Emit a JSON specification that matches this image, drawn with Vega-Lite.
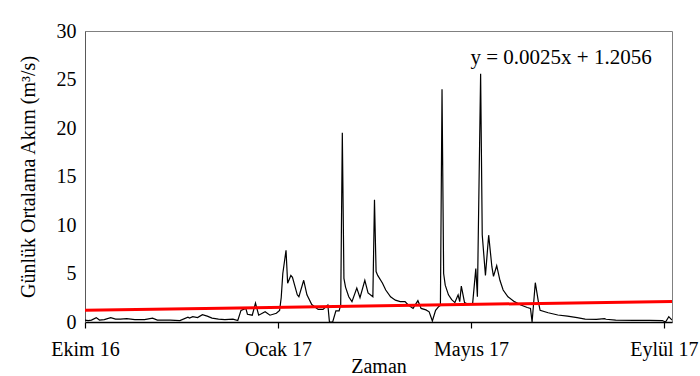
{
  "$schema": "https://vega.github.io/schema/vega-lite/v6.json",
  "width": 587,
  "height": 291,
  "autosize": "none",
  "padding": {"left": 85, "top": 31, "right": 28, "bottom": 54},
  "background": "white",
  "config": {"view": {"stroke": "#808080", "strokeWidth": 1}, "font": "Liberation Serif"},
  "datasets": {
    "akim": [
      {"day": 0, "akim": 0.2}, {"day": 2, "akim": 0.15}, {"day": 4, "akim": 0.2}, {"day": 7, "akim": 0.45},
      {"day": 9, "akim": 0.2}, {"day": 12, "akim": 0.25}, {"day": 16, "akim": 0.45}, {"day": 19, "akim": 0.3},
      {"day": 22, "akim": 0.3}, {"day": 26, "akim": 0.35}, {"day": 31, "akim": 0.25}, {"day": 37, "akim": 0.25},
      {"day": 42, "akim": 0.4}, {"day": 45, "akim": 0.2}, {"day": 53, "akim": 0.2}, {"day": 59, "akim": 0.15},
      {"day": 64, "akim": 0.5}, {"day": 65, "akim": 0.4}, {"day": 67, "akim": 0.55}, {"day": 70, "akim": 0.45},
      {"day": 73, "akim": 0.75}, {"day": 76, "akim": 0.6}, {"day": 79, "akim": 0.4}, {"day": 83, "akim": 0.3},
      {"day": 87, "akim": 0.25}, {"day": 92, "akim": 0.3}, {"day": 95, "akim": 0.15}, {"day": 97, "akim": 1.2},
      {"day": 100, "akim": 1.4}, {"day": 101, "akim": 0.8}, {"day": 104, "akim": 0.7}, {"day": 106, "akim": 1.95},
      {"day": 108, "akim": 0.7}, {"day": 112, "akim": 1.05}, {"day": 115, "akim": 0.7}, {"day": 119, "akim": 0.9},
      {"day": 121, "akim": 1.2}, {"day": 122, "akim": 2.5}, {"day": 123, "akim": 5.0}, {"day": 125, "akim": 7.4},
      {"day": 126, "akim": 4.0}, {"day": 128, "akim": 4.8}, {"day": 129, "akim": 4.6}, {"day": 132, "akim": 2.8},
      {"day": 133, "akim": 2.6}, {"day": 136, "akim": 4.3}, {"day": 138, "akim": 2.8}, {"day": 141, "akim": 1.8},
      {"day": 145, "akim": 1.3}, {"day": 148, "akim": 1.3}, {"day": 151, "akim": 1.75}, {"day": 152, "akim": 0.0},
      {"day": 154, "akim": 0.0}, {"day": 156, "akim": 1.15}, {"day": 158, "akim": 1.15}, {"day": 159, "akim": 1.75},
      {"day": 160, "akim": 19.5}, {"day": 161, "akim": 4.5}, {"day": 162, "akim": 3.6}, {"day": 164, "akim": 2.6},
      {"day": 166, "akim": 2.1}, {"day": 169, "akim": 3.5}, {"day": 171, "akim": 2.5}, {"day": 174, "akim": 4.3},
      {"day": 176, "akim": 3.0}, {"day": 179, "akim": 2.6}, {"day": 180, "akim": 12.6}, {"day": 181, "akim": 5.2},
      {"day": 182, "akim": 4.8}, {"day": 185, "akim": 4.0}, {"day": 187, "akim": 3.3}, {"day": 190, "akim": 2.6},
      {"day": 193, "akim": 2.25}, {"day": 196, "akim": 2.1}, {"day": 199, "akim": 2.1}, {"day": 201, "akim": 1.75},
      {"day": 204, "akim": 1.4}, {"day": 207, "akim": 2.2}, {"day": 209, "akim": 1.4}, {"day": 212, "akim": 1.25},
      {"day": 214, "akim": 1.05}, {"day": 216, "akim": 0.1}, {"day": 218, "akim": 1.2}, {"day": 220, "akim": 1.6},
      {"day": 221, "akim": 1.7}, {"day": 222, "akim": 24.0}, {"day": 223, "akim": 5.0}, {"day": 224, "akim": 3.8},
      {"day": 226, "akim": 2.8}, {"day": 228, "akim": 2.3}, {"day": 230, "akim": 2.0}, {"day": 232, "akim": 2.8},
      {"day": 233, "akim": 2.1}, {"day": 234, "akim": 3.7}, {"day": 236, "akim": 2.0}, {"day": 238, "akim": 1.85},
      {"day": 241, "akim": 1.85}, {"day": 243, "akim": 5.5}, {"day": 244, "akim": 2.6}, {"day": 246, "akim": 25.6},
      {"day": 247, "akim": 9.0}, {"day": 249, "akim": 4.8}, {"day": 251, "akim": 8.95}, {"day": 253, "akim": 5.7},
      {"day": 254, "akim": 4.7}, {"day": 256, "akim": 5.8}, {"day": 258, "akim": 4.3}, {"day": 260, "akim": 3.3},
      {"day": 263, "akim": 2.6}, {"day": 267, "akim": 2.1}, {"day": 271, "akim": 1.75}, {"day": 275, "akim": 1.5},
      {"day": 277, "akim": 1.4}, {"day": 278, "akim": 0.0}, {"day": 280, "akim": 4.05}, {"day": 282, "akim": 2.0},
      {"day": 283, "akim": 1.2}, {"day": 288, "akim": 0.95}, {"day": 294, "akim": 0.72}, {"day": 300, "akim": 0.6},
      {"day": 306, "akim": 0.45}, {"day": 311, "akim": 0.3}, {"day": 318, "akim": 0.28}, {"day": 323, "akim": 0.35},
      {"day": 324, "akim": 0.28}, {"day": 330, "akim": 0.2}, {"day": 341, "akim": 0.17}, {"day": 351, "akim": 0.17},
      {"day": 359, "akim": 0.15}, {"day": 361, "akim": 0.0}, {"day": 363, "akim": 0.55}, {"day": 365, "akim": 0.2}
    ],
    "trend": [{"day": 0, "akim": 1.21}, {"day": 365, "akim": 2.12}]
  },
  "layer": [
    {
      "data": {"name": "akim"},
      "mark": {"type": "line", "color": "black", "strokeWidth": 1.2, "clip": true},
      "encoding": {
        "x": {
          "field": "day", "type": "quantitative",
          "scale": {"domain": [0, 365], "nice": false, "zero": false},
          "axis": {
            "values": [0, 120, 240, 360],
            "labelExpr": "datum.value == 0 ? 'Ekim 16' : datum.value == 120 ? 'Ocak 17' : datum.value == 240 ? 'Mayıs 17' : 'Eylül 17'",
            "title": "Zaman", "grid": false,
            "domainColor": "black", "domainWidth": 1.5,
            "tickColor": "black", "tickSize": 6, "tickWidth": 1.2,
            "labelFont": "Liberation Serif", "labelFontSize": 20, "labelColor": "black",
            "labelPadding": 11, "labelOverlap": false, "labelFlush": false,
            "titleFont": "Liberation Serif", "titleFontSize": 20, "titleColor": "black",
            "titleFontWeight": "normal", "titlePadding": -3
          }
        },
        "y": {
          "field": "akim", "type": "quantitative",
          "scale": {"domain": [0, 30], "nice": false},
          "axis": {
            "values": [0, 5, 10, 15, 20, 25, 30],
            "title": "Günlük Ortalama Akım (m³/s)", "grid": false,
            "domainColor": "#595959", "domainWidth": 1,
            "ticks": false, "labelPadding": 9,
            "labelFont": "Liberation Serif", "labelFontSize": 20, "labelColor": "black",
            "titleFont": "Liberation Serif", "titleFontSize": 20, "titleColor": "black",
            "titleFontWeight": "normal", "titlePadding": 18
          }
        }
      }
    },
    {
      "data": {"name": "trend"},
      "mark": {"type": "line", "color": "#ff0000", "strokeWidth": 3},
      "encoding": {
        "x": {"field": "day", "type": "quantitative"},
        "y": {"field": "akim", "type": "quantitative"}
      }
    },
    {
      "data": {"values": [{}]},
      "mark": {"type": "text", "text": "y = 0.0025x + 1.2056", "font": "Liberation Serif", "fontSize": 21, "color": "black", "align": "center", "baseline": "middle"},
      "encoding": {
        "x": {"datum": 296, "type": "quantitative"},
        "y": {"datum": 27.2, "type": "quantitative"}
      }
    }
  ]
}
